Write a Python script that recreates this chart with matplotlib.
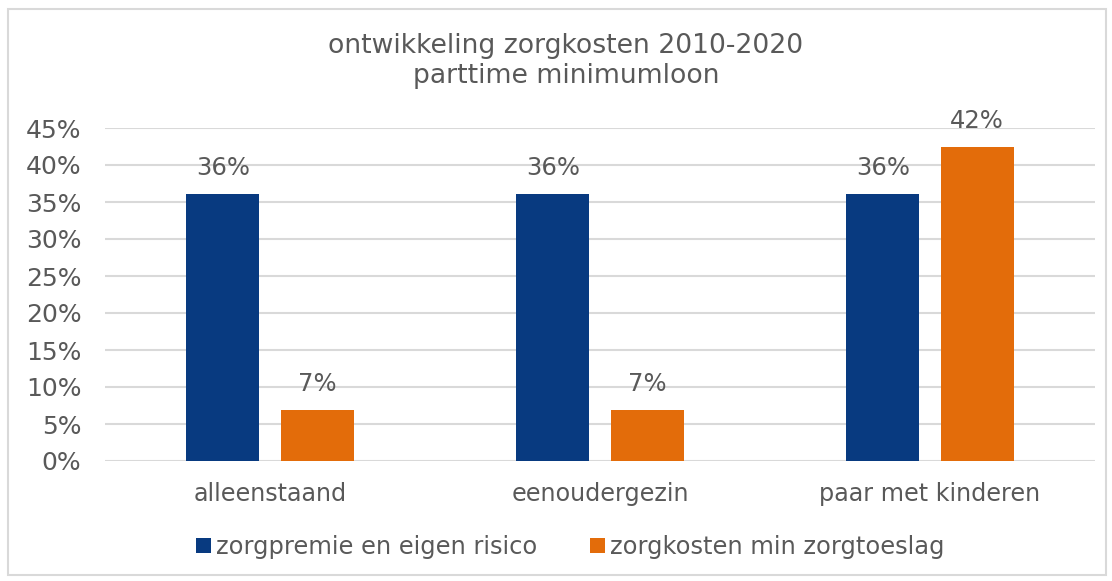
import matplotlib.pyplot as plt
import numpy as np
from matplotlib.patches import Rectangle

categories = ['alleenstaand', 'eenoudergezin', 'paar met kinderen']
premie = [36.1, 36.1, 36.1]
kosten = [6.9, 6.9, 42.4]
premie_labels = ['36%', '36%', '36%']
kosten_labels = ['7%', '7%', '42%']
series_names = ['zorgpremie en eigen risico', 'zorgkosten min zorgtoeslag']
yticks = [0, 5, 10, 15, 20, 25, 30, 35, 40, 45]

blue = '#083A80'
orange = '#E36C0A'
grey = '#595959'

fig = plt.figure(figsize=(11.12, 5.81), dpi=100)
W, H = 1112, 581
ax = fig.add_axes([105 / W, 1 - 461 / H, (1095 - 105) / W, (461 - 128) / H])

# outer chart border
fig.patches.append(Rectangle((8 / W, 6 / H), 1098 / W, 566 / H, transform=fig.transFigure,
                             fill=False, edgecolor='#D9D9D9', linewidth=1.5))

x = np.arange(len(categories))
bw = 0.222
off = 0.143
b1 = ax.bar(x - off, premie, bw, color=blue, label=series_names[0], zorder=3)
b2 = ax.bar(x + off, kosten, bw, color=orange, label=series_names[1], zorder=3)

for bars, labels in [(b1, premie_labels), (b2, kosten_labels)]:
    for b, lab in zip(bars, labels):
        ax.annotate(lab, (b.get_x() + b.get_width() / 2, b.get_height()),
                    xytext=(0, 10), textcoords='offset points',
                    ha='center', va='bottom', fontsize=17.5, color=grey)

ax.set_xlim(-0.5, 2.5)
ax.set_ylim(0, 45)
ax.set_yticks(yticks)
ax.set_yticklabels([f'{v}%' for v in yticks])
ax.set_xticks(x)
ax.set_xticklabels(categories, fontsize=17.2)
ax.tick_params(axis='both', length=0, labelcolor=grey)
ax.tick_params(axis='y', pad=17, labelsize=18)
ax.tick_params(axis='x', pad=15)
ax.yaxis.grid(True, color='#D9D9D9', linewidth=1.5, zorder=0)
for s in ax.spines.values():
    s.set_visible(False)

fig.text(566 / W, 1 - 61 / H, 'ontwikkeling zorgkosten 2010-2020\nparttime minimumloon',
         ha='center', va='center', fontsize=19.2, color=grey, linespacing=1.22)

fig.legend(loc='center', bbox_to_anchor=(570 / W, 1 - 547 / H), ncol=2, frameon=False,
           fontsize=17.4, labelcolor=grey, handlelength=0.62, handleheight=0.62,
           handletextpad=0.2, columnspacing=2.2)

fig.savefig('out.png', dpi=100)
